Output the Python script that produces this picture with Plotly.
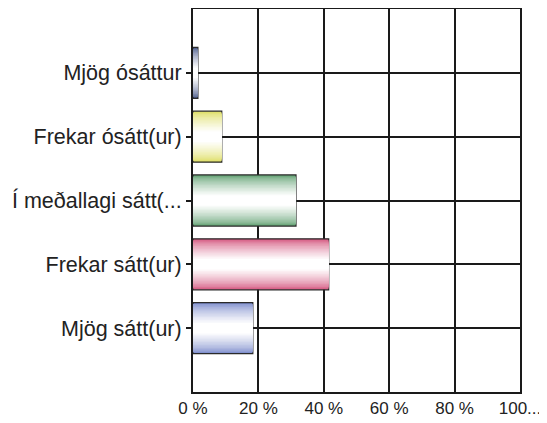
import plotly.graph_objects as go

# Data (bottom to top)
categories = ["Mjög sátt(ur)", "Frekar sátt(ur)", "Í meðallagi sátt(...", "Frekar ósátt(ur)", "Mjög ósáttur"]
values = [18.3, 41.5, 31.5, 8.8, 1.5]
bar_colors = ["#7c8ccc", "#d4577f", "#64a274", "#dede62", "#4e5d8c"]
x_tickvals = [0, 20, 40, 60, 80, 100]
x_ticktext = ["0 %", "20 %", "40 %", "60 %", "80 %", "100..."]


def mix(hex_color, t):
    h = hex_color.lstrip("#")
    r, g, b = int(h[0:2], 16), int(h[2:4], 16), int(h[4:6], 16)
    r = round(r + (255 - r) * t)
    g = round(g + (255 - g) * t)
    b = round(b + (255 - b) * t)
    return f"rgb({r},{g},{b})"


fig = go.Figure()

# cylinder-like shading: overlaid bars of decreasing thickness, lightening toward the centre
n_layers = 16
full_w = 0.80
for i in range(n_layers):
    frac = i / (n_layers - 1)
    w = full_w * (1 - 0.85 * frac)
    t = min(1.0, (frac ** 0.7) * 1.05)
    fig.add_trace(go.Bar(
        y=categories,
        x=values,
        orientation="h",
        width=w,
        marker=dict(
            color=[mix(c, t) for c in bar_colors],
            line=dict(color="#2a2a2a", width=1.2 if i == 0 else 0),
        ),
        showlegend=False,
        hoverinfo="skip",
    ))

# page body adds an 8px offset, so the figure is sized 8px smaller
fig.update_layout(
    width=539,
    height=415,
    margin=dict(l=185, r=27, t=1, b=30.5),
    paper_bgcolor="white",
    plot_bgcolor="white",
    barmode="overlay",
    font=dict(family="Liberation Sans, Arial, sans-serif", size=19, color="#222"),
)

fig.update_xaxes(
    automargin=False,
    range=[0, 100],
    tickvals=x_tickvals,
    ticktext=x_ticktext,
    showgrid=True,
    gridcolor="#1a1a1a",
    gridwidth=2,
    showline=True,
    linecolor="#1a1a1a",
    linewidth=2,
    mirror=True,
    ticks="",
    zeroline=False,
    tickfont=dict(size=17),
)

fig.update_yaxes(
    automargin=False,
    type="category",
    categoryorder="array",
    categoryarray=categories,
    range=[-1, 5],
    showgrid=True,
    gridcolor="#1a1a1a",
    gridwidth=2,
    showline=True,
    linecolor="#1a1a1a",
    linewidth=2,
    mirror=True,
    ticks="outside",
    ticklen=5,
    tickwidth=1.5,
    tickcolor="#1a1a1a",
    tickfont=dict(size=21.5),
)

fig.write_html("out.html")
